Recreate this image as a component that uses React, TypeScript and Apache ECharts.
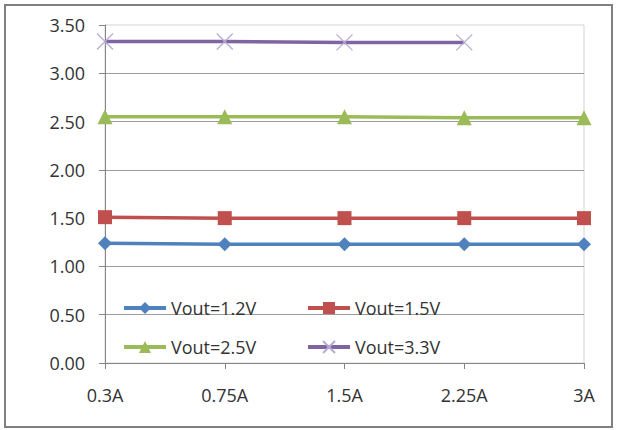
import React, { useEffect, useRef } from "react";
import * as echarts from "echarts";

// Load current (A) on the category axis
const currents = ["0.3A", "0.75A", "1.5A", "2.25A", "3A"];

// Measured output voltage (V) per setting
const vout12 = [1.24, 1.23, 1.23, 1.23, 1.23];
const vout15 = [1.51, 1.5, 1.5, 1.5, 1.5];
const vout25 = [2.55, 2.55, 2.55, 2.54, 2.54];
const vout33 = [3.33, 3.33, 3.32, 3.32];

const seriesNames = ["Vout=1.2V", "Vout=1.5V", "Vout=2.5V", "Vout=3.3V"];

const FONT = "'Open Sans', 'Noto Sans', sans-serif";
const TEXT = "#333333";

export default function App() {
  const ref = useRef<HTMLDivElement>(null);

  useEffect(() => {
    if (!ref.current) return;
    const chart = echarts.init(ref.current, undefined, { renderer: "svg" });

    const legendAt = (name: string, left: number, top: number) => ({
      data: [name],
      left,
      top,
      padding: 0,
      itemWidth: 42,
      itemHeight: 15,
      selectedMode: false,
      lineStyle: { width: 4 },
      textStyle: { fontFamily: FONT, fontSize: 18, color: TEXT, lineHeight: 18 },
    });

    chart.setOption({
      animation: false,
      backgroundColor: "#ffffff",
      textStyle: { fontFamily: FONT },
      grid: {
        left: 105,
        right: 33,
        top: 25,
        bottom: 67,
        show: true,
        borderColor: "#d4d4d4",
        borderWidth: 1,
        backgroundColor: "transparent",
      },
      legend: [
        legendAt(seriesNames[0], 122, 299),
        legendAt(seriesNames[1], 306, 299),
        legendAt(seriesNames[2], 122, 338),
        legendAt(seriesNames[3], 306, 338),
      ],
      xAxis: {
        type: "category",
        data: currents,
        boundaryGap: false,
        axisLine: { lineStyle: { color: "#868686", width: 1 } },
        axisTick: { show: true, length: 6, lineStyle: { color: "#868686" } },
        axisLabel: { color: TEXT, fontSize: 18, fontFamily: FONT, margin: 23 },
        splitLine: { show: false },
      },
      yAxis: {
        type: "value",
        min: 0,
        max: 3.5,
        interval: 0.5,
        axisLine: { show: true, lineStyle: { color: "#868686", width: 1 } },
        axisTick: { show: true, length: 6, lineStyle: { color: "#868686" } },
        axisLabel: {
          color: TEXT,
          fontSize: 18,
          fontFamily: FONT,
          margin: 20,
          formatter: (v: number) => v.toFixed(2),
        },
        splitLine: { show: true, showMaxLine: false, lineStyle: { color: "#9c9c9c", width: 1 } },
      },
      series: [
        {
          name: seriesNames[0],
          type: "line",
          data: vout12,
          symbol: "diamond",
          symbolSize: 14,
          lineStyle: { color: "#4f81bd", width: 3.5 },
          itemStyle: { color: "#4f81bd" },
        },
        {
          name: seriesNames[1],
          type: "line",
          data: vout15,
          symbol: "rect",
          symbolSize: 14,
          lineStyle: { color: "#c0504d", width: 3.5 },
          itemStyle: { color: "#c0504d" },
        },
        {
          name: seriesNames[2],
          type: "line",
          data: vout25,
          symbol: "triangle",
          symbolSize: 15,
          lineStyle: { color: "#9bbb59", width: 3.5 },
          itemStyle: { color: "#9bbb59" },
        },
        {
          name: seriesNames[3],
          type: "line",
          data: vout33,
          symbol: "path://M0,0L10,10M10,0L0,10",
          symbolKeepAspect: true,
          symbolSize: 16,
          lineStyle: { color: "#8064a2", width: 3.5 },
          itemStyle: { color: "#b8abd4", borderColor: "#b8abd4", borderWidth: 1.3 },
        },
      ],
      graphic: [
        {
          type: "rect",
          shape: { x: 5, y: 5, width: 607, height: 422 },
          style: { fill: "none", stroke: "#808080", lineWidth: 2 },
          silent: true,
        },
      ],
    });

    return () => chart.dispose();
  }, []);

  return (
    <div
      ref={ref}
      style={{ position: "fixed", left: 0, top: 0, width: 617, height: 430, background: "#fff" }}
    />
  );
}
